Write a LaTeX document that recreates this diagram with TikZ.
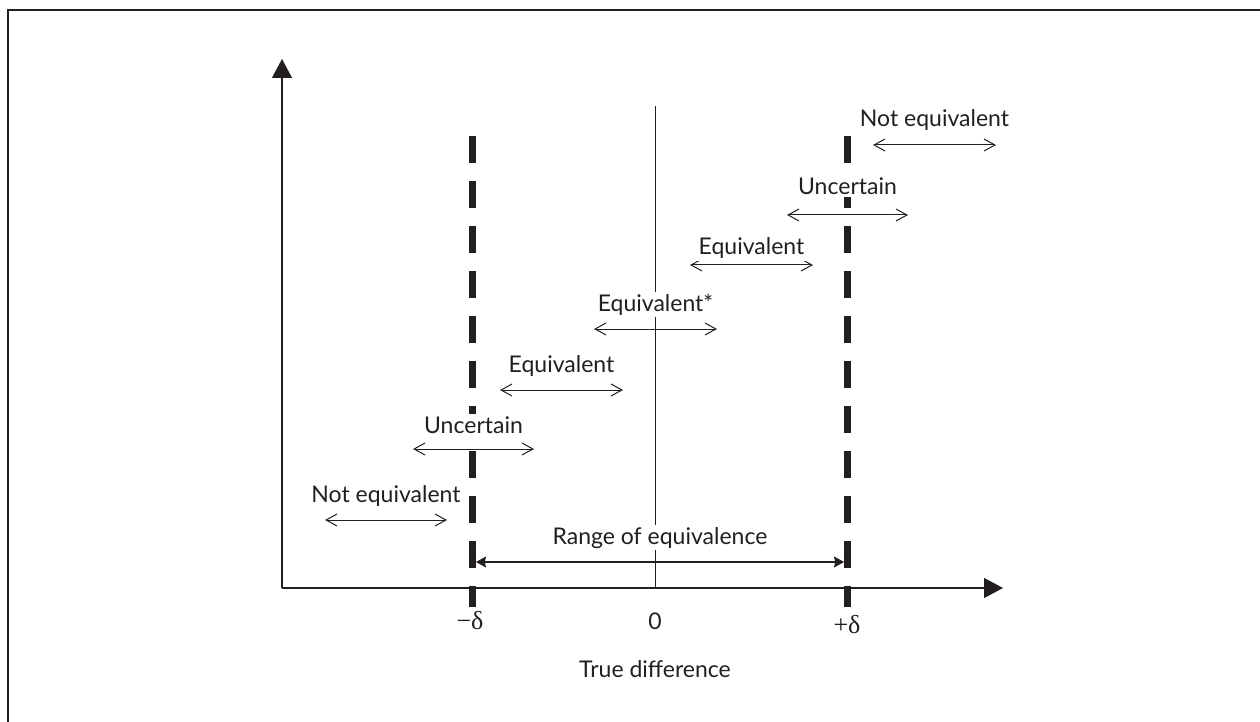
\documentclass[tikz,border=0pt]{standalone}
\usepackage{fontspec}
\setmainfont{Lato}
\newfontfamily\deltafont{Liberation Serif}
\usetikzlibrary{arrows.meta}

\definecolor{ink}{RGB}{35,31,32}

\begin{document}
\begin{tikzpicture}[
    x=0.5pt, y=-0.5pt,
    font=\fontsize{11.5}{13}\selectfont,
    every node/.style={text=ink},
    frame/.style={draw=ink, line width=1pt},
    axis/.style={draw=ink, line width=0.6pt, -{Triangle[length=9.5pt, width=10pt]}},
    bound/.style={draw=ink, line width=3.5pt, dash pattern=on 13.5pt off 9pt},
    zero/.style={draw=ink, line width=0.5pt},
    interval/.style={draw=ink, line width=0.5pt, {Straight Barb[length=5.5pt, width=6pt]}-{Straight Barb[length=5.5pt, width=6pt]}},
    rangearrow/.style={draw=ink, line width=0.6pt, {Stealth[length=5pt, width=5.5pt, inset=0.6pt]}-{Stealth[length=5pt, width=5.5pt, inset=0.6pt]}},
    lbl/.style={fill=white, inner sep=1pt, anchor=base, yshift=#1},
    lbl/.default=9pt,
    ticklbl/.style={anchor=base, inner sep=0pt}
]
    \useasboundingbox (0,0) rectangle (1260,722);

    % frame (top and left edges only)
    \draw[frame] (1260,10) -- (7.5,10) -- (7.5,722);

    % axes
    \coordinate (O) at (282,588);
    \coordinate (ytip) at (282,59);
    \coordinate (xtip) at (1003,588);
    \draw[axis] (O) -- (ytip);
    \draw[axis] (O) -- (xtip);

    % limits of equivalence and zero line
    \coordinate (lotop) at (472,136);
    \coordinate (lobot) at (472,607);
    \coordinate (hitop) at (847.5,136);
    \coordinate (hibot) at (847.5,607);
    \coordinate (ztop) at (655.5,106);
    \draw[bound] (lotop) -- (lobot);
    \draw[bound] (hitop) -- (hibot);
    \draw[zero] (ztop) -- (O -| ztop);

    % range of equivalence
    \coordinate (rlo) at (476,562);
    \coordinate (rhi) at (844,562);
    \draw[rangearrow] (rlo) -- node[lbl] (rangelbl) {Range of equivalence} (rhi);

    % confidence intervals
    \coordinate (ne1a) at (325,520);
    \coordinate (ne1b) at (447,520);
    \draw[interval] (ne1a) -- node[lbl] (ne1lbl) {Not equivalent} (ne1b);

    \coordinate (un1a) at (413,449);
    \coordinate (un1b) at (534,449);
    \draw[interval] (un1a) -- node[lbl=8pt] (un1lbl) {Uncertain} (un1b);

    \coordinate (eq1a) at (500,390);
    \coordinate (eq1b) at (623,390);
    \draw[interval] (eq1a) -- node[lbl] (eq1lbl) {Equivalent} (eq1b);

    \coordinate (eqsa) at (594,329);
    \coordinate (eqsb) at (717,329);
    \draw[interval] (eqsa) -- node[lbl] (eqslbl) {Equivalent*} (eqsb);

    \coordinate (eq2a) at (690,265);
    \coordinate (eq2b) at (813,265);
    \draw[interval] (eq2a) -- node[lbl=5pt] (eq2lbl) {Equivalent} (eq2b);

    \coordinate (un2a) at (787,215);
    \coordinate (un2b) at (908,215);
    \draw[interval] (un2a) -- node[lbl=10pt] (un2lbl) {Uncertain} (un2b);

    \coordinate (ne2a) at (873,145);
    \coordinate (ne2b) at (996,145);
    \draw[interval] (ne2a) -- node[lbl] (ne2lbl) {Not equivalent} (ne2b);

    % axis labels
    \node[ticklbl] (lolbl) at (470,629) {\deltafont\fontsize{13}{15}\selectfont −δ};
    \node[ticklbl] (zerolbl) at (655,629) {0};
    \node[ticklbl] (hilbl) at (847,633) {\deltafont\fontsize{13}{15}\selectfont +δ};
    \node[ticklbl] (xlbl) at (655,677) {True difference};

\end{tikzpicture}
\end{document}
